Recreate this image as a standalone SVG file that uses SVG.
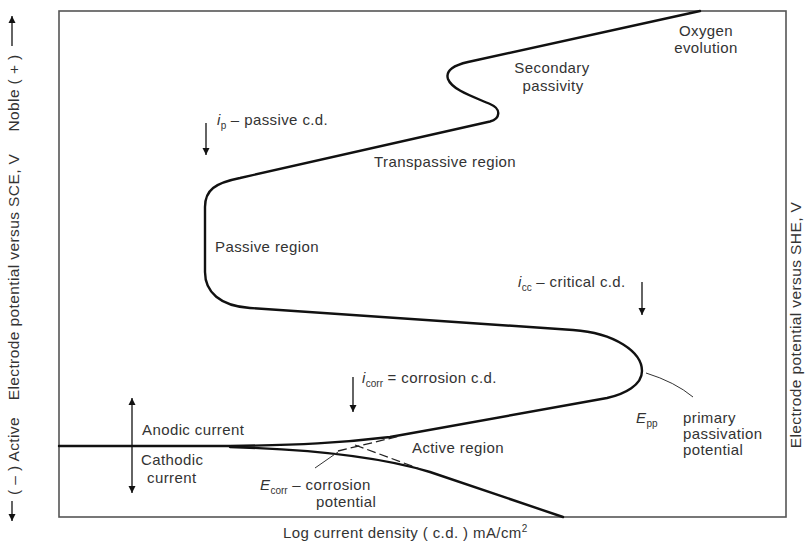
<svg xmlns="http://www.w3.org/2000/svg" width="805" height="542" viewBox="0 0 805 542">
<style>
text{font-family:"Liberation Sans",Arial,sans-serif;font-size:15px;fill:#333;letter-spacing:0.4px}
.ax{font-size:15.5px;letter-spacing:0.4px}
.sub{font-size:10px;letter-spacing:0}
.it{font-style:italic}
.curve{fill:none;stroke:#111;stroke-width:2.4;stroke-linejoin:round;stroke-linecap:round}
.thin{fill:none;stroke:#333;stroke-width:1}
.dash{fill:none;stroke:#222;stroke-width:1.3;stroke-dasharray:9 4}
.arr{fill:none;stroke:#111;stroke-width:1.3}
</style>
<defs>
<marker id="ah" viewBox="0 0 10 10" refX="10" refY="5" markerWidth="7" markerHeight="9" markerUnits="userSpaceOnUse" orient="auto">
<path d="M0,0 L10,5 L0,10 Z" fill="#111"/>
</marker>
</defs>
<rect width="805" height="542" fill="#fff"/>
<g id="frame">
<rect x="59" y="11" width="727" height="506" fill="none" stroke="#555" stroke-width="1.6"/>
</g>
<g id="connectors">
<path id="polarization-curve" class="curve" d="M59,446 L230,446 C300,445 340,443 390,437 L607,398 C625,394 642,385 642,371 C642,352 615,333 573,330 L250,308 C220,306 205,292 205,272 L205,207 C205,190 215,183 240,178 L490,121.5 C500,119 502,109 490,104 C474,97 452,90 448,79 C445,70 455,65 468,62 L700,11"/>
<path id="cathodic-branch" class="curve" d="M230,447 C300,449 375,455 430,472 L563,517"/>
<path class="dash" d="M338,451 L400,436"/>
<path class="dash" d="M355,445 L420,469"/>
<path class="thin" d="M315,468 L338,452"/>
<path class="thin" d="M646,373 Q675,382 693,397"/>
<line class="arr" x1="206" y1="123" x2="206" y2="155" marker-end="url(#ah)"/>
<line class="arr" x1="642" y1="282" x2="642" y2="315" marker-end="url(#ah)"/>
<line class="arr" x1="353" y1="377" x2="353" y2="412" marker-end="url(#ah)"/>
<line class="arr" x1="132" y1="446" x2="132" y2="398" marker-end="url(#ah)"/>
<line class="arr" x1="132" y1="446" x2="132" y2="493" marker-end="url(#ah)"/>
<line class="arr" x1="12" y1="46" x2="12" y2="16" marker-end="url(#ah)"/>
<line class="arr" x1="12" y1="501" x2="12" y2="521" marker-end="url(#ah)"/>
</g>
<g id="labels">
<text x="706" y="36" text-anchor="middle">Oxygen</text>
<text x="706" y="53" text-anchor="middle">evolution</text>
<text x="552" y="73" text-anchor="middle">Secondary</text>
<text x="553" y="91" text-anchor="middle">passivity</text>
<text x="374" y="167">Transpassive region</text>
<text x="217" y="125"><tspan class="it">i</tspan><tspan class="sub" dy="4">p</tspan><tspan dy="-4"> – passive c.d.</tspan></text>
<text x="215" y="252">Passive region</text>
<text x="518" y="287"><tspan class="it">i</tspan><tspan class="sub" dy="4">cc</tspan><tspan dy="-4"> – critical c.d.</tspan></text>
<text x="362" y="383"><tspan class="it">i</tspan><tspan class="sub" dy="4">corr</tspan><tspan dy="-4"> = corrosion c.d.</tspan></text>
<text x="142" y="435">Anodic current</text>
<text x="141" y="465">Cathodic</text>
<text x="147" y="483">current</text>
<text x="412" y="453">Active region</text>
<text x="260" y="490"><tspan class="it">E</tspan><tspan class="sub" dy="4">corr</tspan><tspan dy="-4"> – corrosion</tspan></text>
<text x="316" y="507">potential</text>
<text x="636" y="423"><tspan class="it">E</tspan><tspan class="sub" dy="4">pp</tspan></text>
<text x="683" y="423">primary</text>
<text x="683" y="439">passivation</text>
<text x="683" y="455">potential</text>
<text x="283" y="538">Log current density ( c.d. ) mA/cm<tspan class="sub" dy="-6">2</tspan></text>
<text class="ax" transform="translate(19,277) rotate(-90)" text-anchor="middle">Electrode potential versus SCE, V</text>
<text class="ax" transform="translate(19,93) rotate(-90)" text-anchor="middle">Noble ( + )</text>
<text class="ax" transform="translate(19,456) rotate(-90)" text-anchor="middle">( – ) Active</text>
<text class="ax" transform="translate(801,325) rotate(-90)" text-anchor="middle">Electrode potential versus SHE, V</text>
</g>
</svg>
